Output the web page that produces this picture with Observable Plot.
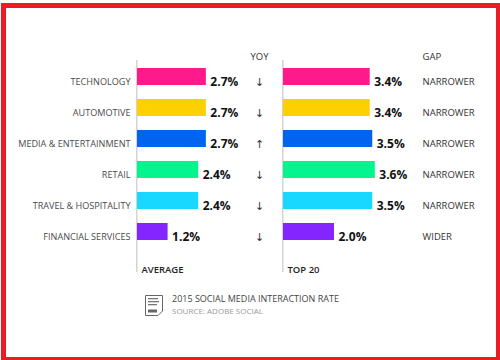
<!DOCTYPE html>
<html>
<head>
<meta charset="utf-8">
<script src="https://cdn.jsdelivr.net/npm/d3@7"></script>
<script src="https://cdn.jsdelivr.net/npm/@observablehq/plot@0.6"></script>
<style>
  html, body { margin: 0; padding: 0; background: #fff; }
  #wrap { position: relative; width: 500px; height: 360px; overflow: hidden; font-family: "Open Sans", sans-serif; }
  #border { position: absolute; left: 1px; top: 3px; width: 499px; height: 357px; box-sizing: border-box;
            border-style: solid; border-color: #ED1C24; border-width: 5px 4px 3px 5px; pointer-events: none; }
  #chart svg { display: block; }
  #footer { position: absolute; left: 145px; top: 293px; }
  #footer .t1 { position: absolute; left: 27px; top: 0px; font-size: 9px; color: #444; white-space: nowrap; line-height: 12px; }
  #footer .t2 { position: absolute; left: 27px; top: 13px; font-size: 8px; color: #9a9a9a; white-space: nowrap; line-height: 10px; }
  #logo { position: absolute; left: 0; top: 2px; }
</style>
</head>
<body>
<div id="wrap">
  <div id="chart"></div>
  <div id="footer">
    <svg id="logo" width="18" height="21" viewBox="0 0 18 21">
      <path d="M0.5,0.5 H17.5 V16 L13,20.5 H0.5 Z" fill="#fff" stroke="#666" stroke-width="1"/>
      <rect x="3" y="3" width="10" height="1.3" fill="#777"/>
      <rect x="3" y="6" width="11" height="1.3" fill="#777"/>
      <rect x="3" y="9" width="9" height="1.3" fill="#777"/>
      <rect x="3" y="14.5" width="9" height="3" fill="#666"/>
    </svg>
    <div class="t1">2015 SOCIAL MEDIA INTERACTION RATE</div>
    <div class="t2">SOURCE: ADOBE SOCIAL</div>
  </div>
  <div id="border"></div>
</div>
<script>
const categories = ["TECHNOLOGY", "AUTOMOTIVE", "MEDIA & ENTERTAINMENT", "RETAIL", "TRAVEL & HOSPITALITY", "FINANCIAL SERVICES"];
const average = [2.7, 2.7, 2.7, 2.4, 2.4, 1.2];
const top20 = [3.4, 3.4, 3.5, 3.6, 3.5, 2.0];
const yoy = ["↓", "↓", "↑", "↓", "↓", "↓"];
const gap = ["NARROWER", "NARROWER", "NARROWER", "NARROWER", "NARROWER", "WIDER"];
const colors = ["#FF1A8C", "#FFD000", "#0064F0", "#05F58E", "#18D8FF", "#8424FF"];
const panels = ["AVERAGE", "TOP 20"];

const rows = [];
categories.forEach((c, i) => {
  rows.push({category: c, panel: panels[0], value: average[i]});
  rows.push({category: c, panel: panels[1], value: top20[i]});
});
const info = categories.map((c, i) => ({category: c, yoy: yoy[i], gap: gap[i]}));

const chart = Plot.plot({
  width: 500,
  height: 360,
  marginLeft: 137,
  marginRight: 71,
  marginTop: 60,
  marginBottom: 88,
  style: {fontFamily: "Open Sans, sans-serif", background: "transparent"},
  fx: {domain: panels, padding: 0, axis: null},
  x: {domain: [0, 5.725], axis: null},
  y: {type: "band", domain: categories, range: [53.5, 254], padding: 0.45, axis: null, label: null},
  color: {domain: categories, range: colors},
  marks: [
    Plot.ruleX([0], {stroke: "#d4d4d4", strokeWidth: 1.5, dx: -0.75}),
    Plot.barX(rows, {fx: "panel", y: "category", x: "value", fill: "category"}),
    Plot.text(rows, {fx: "panel", y: "category", x: "value", text: d => d.value.toFixed(1) + "%",
      textAnchor: "start", dx: 4, dy: 5, fontWeight: "bold", fontSize: 12, fill: "#111"}),
    Plot.axisY({tickSize: 0, tickPadding: 7, dy: 5, fontSize: 9.1, fill: "#4a4a4a", facetAnchor: "left", label: null}),
    Plot.text(info, {fx: () => panels[0], y: "category", text: "yoy", frameAnchor: "right",
      textAnchor: "middle", dx: -24, dy: 5, fontSize: 11, fontFamily: "DejaVu Sans", fill: "#333"}),
    Plot.text(info, {fx: () => panels[1], y: "category", text: "gap", frameAnchor: "left",
      textAnchor: "start", dx: 139, dy: 5, fontSize: 9.5, fontWeight: 500, fill: "#333"}),
    Plot.text(["YOY"], {fx: () => panels[0], text: d => d, frameAnchor: "top-right", textAnchor: "middle",
      lineAnchor: "bottom", dx: -24, dy: -1, fontSize: 9.5, fill: "#333"}),
    Plot.text(["GAP"], {fx: () => panels[1], text: d => d, frameAnchor: "top-left", textAnchor: "start",
      lineAnchor: "bottom", dx: 139, dy: -1, fontSize: 9.5, fill: "#333"}),
    Plot.text(panels, {fx: d => d, text: d => d, frameAnchor: "bottom-left", textAnchor: "start",
      lineAnchor: "bottom", dx: 4, dy: 0, fontSize: 9.5, fontWeight: 600, fill: "#222"})
  ]
});
document.getElementById("chart").appendChild(chart);
</script>
</body>
</html>
